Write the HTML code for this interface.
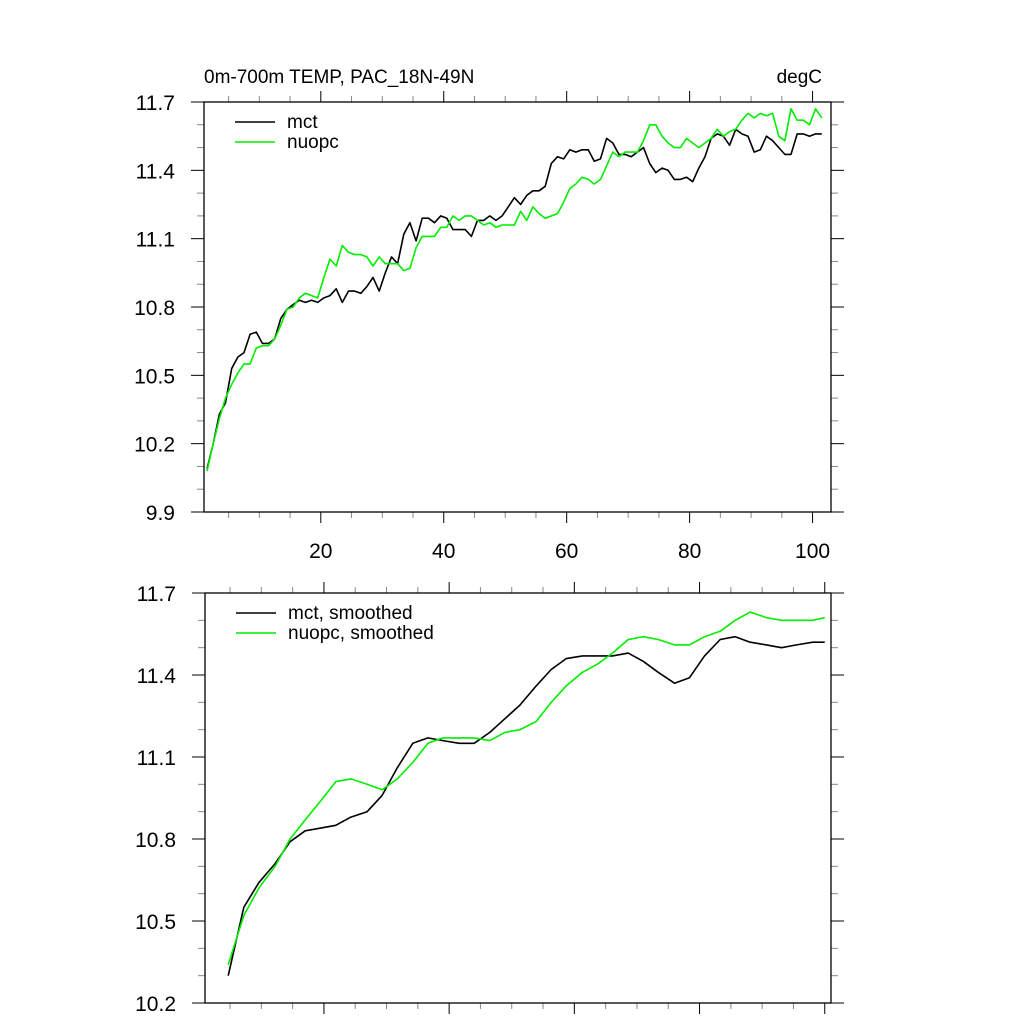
<!DOCTYPE html>
<html><head><meta charset="utf-8"><style>
html,body{margin:0;padding:0;background:#fff;}
svg text{font-family:"Liberation Sans",sans-serif;fill:#000;}
</style></head><body>
<svg id="chart" width="1024" height="1024" xmlns="http://www.w3.org/2000/svg"></svg>
<script>
// ---- Top panel data ----
const topX = Array.from({length:101},(_,i)=>i+1.5);
const mctVals = [10.09,10.2,10.33,10.38,10.53,10.58,10.6,10.68,10.69,10.64,10.64,10.66,10.75,10.79,10.81,10.83,10.82,10.83,10.82,10.84,10.85,10.88,10.82,10.87,10.87,10.86,10.89,10.93,10.87,10.95,11.02,10.99,11.12,11.17,11.09,11.19,11.19,11.17,11.2,11.19,11.14,11.14,11.14,11.11,11.18,11.18,11.2,11.18,11.2,11.24,11.28,11.25,11.29,11.31,11.31,11.33,11.43,11.46,11.45,11.49,11.48,11.49,11.49,11.44,11.45,11.54,11.52,11.47,11.47,11.46,11.48,11.5,11.43,11.39,11.41,11.4,11.36,11.36,11.37,11.35,11.41,11.46,11.54,11.56,11.55,11.51,11.58,11.56,11.55,11.48,11.49,11.55,11.53,11.5,11.47,11.47,11.56,11.56,11.55,11.56,11.56];
const nuopcVals = [10.08,10.2,10.31,10.4,10.46,10.51,10.55,10.55,10.62,10.63,10.63,10.66,10.72,10.79,10.8,10.84,10.86,10.85,10.84,10.93,11.01,10.98,11.07,11.04,11.03,11.03,11.02,10.98,11.02,10.99,10.99,10.99,10.96,10.97,11.06,11.11,11.11,11.11,11.15,11.15,11.2,11.18,11.2,11.2,11.18,11.16,11.17,11.15,11.16,11.16,11.16,11.22,11.18,11.24,11.21,11.19,11.2,11.21,11.26,11.32,11.34,11.37,11.36,11.34,11.36,11.42,11.48,11.46,11.48,11.48,11.48,11.53,11.6,11.6,11.55,11.52,11.5,11.5,11.54,11.52,11.5,11.52,11.54,11.58,11.55,11.57,11.58,11.62,11.65,11.63,11.65,11.64,11.65,11.55,11.53,11.67,11.62,11.62,11.6,11.67,11.63];
const topYTicks = [9.9,10.2,10.5,10.8,11.1,11.4,11.7];
const xTickLabels = [20,40,60,80,100];
// ---- Bottom panel data ----
const smX = [4.7,7.2,9.6,12.2,14.6,17,19.5,21.9,24.3,26.9,29.3,31.7,34.2,36.6,39,41.6,44,46.5,48.9,51.3,53.9,56.3,58.7,61.3,63.7,66.1,68.6,71,73.4,76,78.4,80.8,83.3,85.7,88.1,90.7,93.1,95.5,98.1,100];
const mctSm = [10.3,10.55,10.64,10.71,10.79,10.83,10.84,10.85,10.88,10.9,10.96,11.06,11.15,11.17,11.16,11.15,11.15,11.19,11.24,11.29,11.36,11.42,11.46,11.47,11.47,11.47,11.48,11.45,11.41,11.37,11.39,11.47,11.53,11.54,11.52,11.51,11.5,11.51,11.52,11.52];
const nuopcSm = [10.34,10.52,10.62,10.7,10.8,10.87,10.94,11.01,11.02,11.0,10.98,11.02,11.08,11.15,11.17,11.17,11.17,11.16,11.19,11.2,11.23,11.3,11.36,11.41,11.44,11.48,11.53,11.54,11.53,11.51,11.51,11.54,11.56,11.6,11.63,11.61,11.6,11.6,11.6,11.61];
const botYTicks = [10.2,10.5,10.8,11.1,11.4,11.7];

const NS="http://www.w3.org/2000/svg";
const svg=document.getElementById('chart');
function mk(tag,attrs,parent){const e=document.createElementNS(NS,tag);for(const k in attrs)e.setAttribute(k,attrs[k]);(parent||svg).appendChild(e);return e;}

function panel(cfg){
  const g=mk('g',{});
  
  
  const X=v=>cfg.L+(v-cfg.x0)/(cfg.x1-cfg.x0)*(cfg.R-cfg.L);
  const Y=v=>cfg.B-(v-cfg.y0)/(cfg.y1-cfg.y0)*(cfg.B-cfg.T);
  for(let v=5; v<=cfg.x1; v+=5){
    const px=X(v), major=v%20===0, len=major?11:6;
    const t1=mk('line',{x1:px,x2:px,y1:cfg.B,y2:cfg.B+len,stroke:major?'#000':'#888','stroke-width':1},g);
    
    
    const t2=mk('line',{x1:px,x2:px,y1:cfg.T,y2:cfg.T-len,stroke:major?'#000':'#888','stroke-width':1},g);
    
    
  }
  if(cfg.xLabels){
    xTickLabels.forEach(v=>{
      const t=mk('text',{x:X(v),y:cfg.B+46,'font-size':21,'text-anchor':'middle'},g);
      t.textContent=v;
      
      
    });
  }
  const n=Math.round((cfg.y1-cfg.y0)/0.1);
  for(let i=0;i<=n;i++){
    const v=cfg.y0+i*0.1, py=Y(v), major=i%3===0, len=major?13:7;
    const a=mk('line',{x1:cfg.L-len,x2:cfg.L,y1:py,y2:py,stroke:major?'#000':'#888','stroke-width':1},g);
    
    
    const b=mk('line',{x1:cfg.R,x2:cfg.R+len,y1:py,y2:py,stroke:major?'#000':'#888','stroke-width':1},g);
    
    
  }
  cfg.yTicks.forEach(v=>{
    const t=mk('text',{x:cfg.L-29,y:Y(v)+8,'font-size':21,'text-anchor':'end'},g);
    t.textContent=v.toFixed(1);
    
    
  });
  const fr=mk('rect',{x:cfg.L,y:cfg.T,width:cfg.R-cfg.L,height:cfg.B-cfg.T,fill:'none',stroke:'#000','stroke-width':1.3},g);
  
  
  cfg.series.forEach(s=>{
    const d=s.xs.map((x,i)=>(i?'L':'M')+X(x).toFixed(1)+','+Y(s.ys[i]).toFixed(1)).join(' ');
    const p=mk('path',{d:d,fill:'none',stroke:s.color,'stroke-width':1.6,'stroke-linejoin':'round'},g);
    
    
  });
  cfg.series.forEach((s,i)=>{
    const ly=cfg.T+20+i*20;
    const l=mk('line',{x1:cfg.L+31,x2:cfg.L+71,y1:ly,y2:ly,stroke:s.color,'stroke-width':1.5},g);
    
    
    const t=mk('text',{x:cfg.L+83,y:ly+6,'font-size':19},g);
    t.textContent=s.label;
    
    
  });
}

panel({name:'top-panel',L:204,R:831,T:102,B:512,x0:1,x1:103,y0:9.9,y1:11.7,yTicks:topYTicks,xLabels:true,
  series:[{name:'mct-line',label:'mct',color:'#000',xs:topX,ys:mctVals},{name:'nuopc-line',label:'nuopc',color:'#00ee00',xs:topX,ys:nuopcVals}]});
panel({name:'bottom-panel',L:205,R:831,T:593,B:1003,x0:1,x1:101,y0:10.2,y1:11.7,yTicks:botYTicks,xLabels:false,
  series:[{name:'mct-smoothed-line',label:'mct, smoothed',color:'#000',xs:smX,ys:mctSm},{name:'nuopc-smoothed-line',label:'nuopc, smoothed',color:'#00ee00',xs:smX,ys:nuopcSm}]});

const title=mk('text',{x:204,y:83,'font-size':19});
title.textContent='0m-700m TEMP, PAC_18N-49N';


const unit=mk('text',{x:822,y:83,'font-size':19,'text-anchor':'end'});
unit.textContent='degC';


</script>
</body></html>
